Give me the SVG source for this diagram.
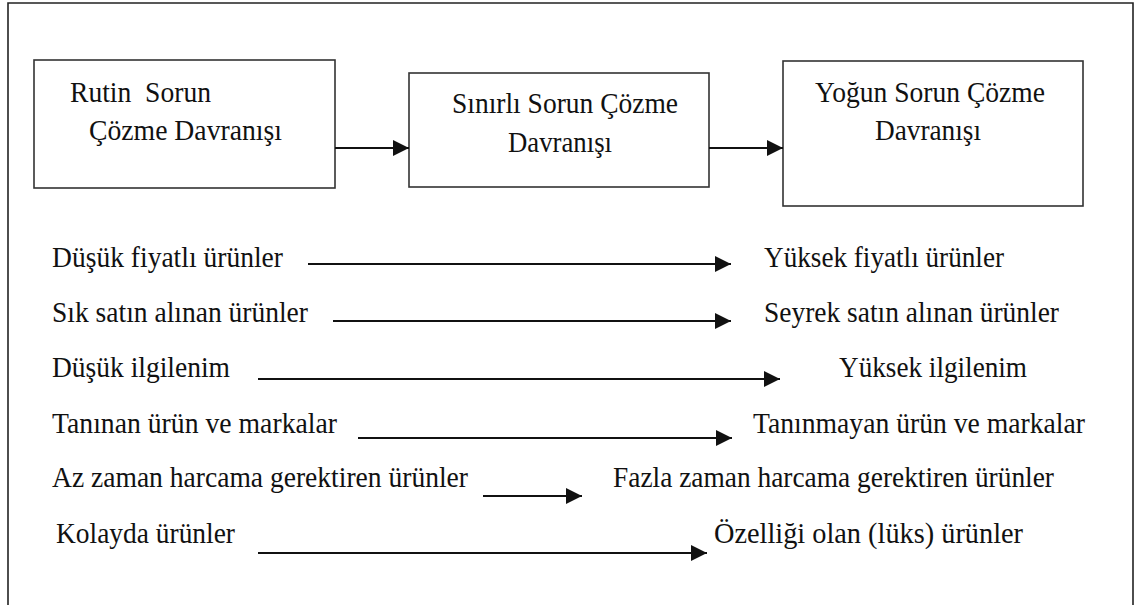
<svg xmlns="http://www.w3.org/2000/svg" width="1136" height="605" viewBox="0 0 1136 605">
  <style>
    .frame { fill: none; stroke: #222; stroke-width: 1.6; }
    .box { fill: #fff; stroke: #333; stroke-width: 1.6; }
    .lbl { font-family: 'Liberation Serif', 'DejaVu Serif', 'Times New Roman', serif; font-size: 29px; fill: #111; }
    .conn { stroke: #111; stroke-width: 2; fill: none; marker-end: url(#arrow); }
  </style>
  <defs>
    <marker id="arrow" markerUnits="userSpaceOnUse" markerWidth="16" markerHeight="16" refX="16" refY="8" orient="auto">
      <path d="M0,0 L16,8 L0,16 z" fill="#111"/>
    </marker>
  </defs>

  <rect width="1136" height="605" fill="#fff"/>
  <!-- outer frame, open at the bottom edge -->
  <path class="frame" d="M8,620 L8,3 L1133,3 L1133,620"/>

  <g id="node-rutin">
    <rect class="box" x="34" y="60" width="301" height="128"/>
    <text class="lbl" x="70" y="102" xml:space="preserve" textLength="141" lengthAdjust="spacingAndGlyphs">Rutin  Sorun</text>
    <text class="lbl" x="89" y="140" textLength="193" lengthAdjust="spacingAndGlyphs">Çözme Davranışı</text>
  </g>

  <g id="node-sinirli">
    <rect class="box" x="409" y="73" width="300" height="114"/>
    <text class="lbl" x="452" y="113" textLength="226" lengthAdjust="spacingAndGlyphs">Sınırlı Sorun Çözme</text>
    <text class="lbl" x="508" y="152" textLength="104" lengthAdjust="spacingAndGlyphs">Davranışı</text>
  </g>

  <g id="node-yogun">
    <rect class="box" x="783" y="61" width="300" height="145"/>
    <text class="lbl" x="815" y="102" textLength="230" lengthAdjust="spacingAndGlyphs">Yoğun Sorun Çözme</text>
    <text class="lbl" x="875" y="140" textLength="106" lengthAdjust="spacingAndGlyphs">Davranışı</text>
  </g>

  <g id="connectors">
    <line class="conn" x1="335" y1="148" x2="409" y2="148"/>
    <line class="conn" x1="709" y1="148" x2="783" y2="148"/>
    <line class="conn" x1="308" y1="264" x2="731" y2="264"/>
    <line class="conn" x1="333" y1="321" x2="731" y2="321"/>
    <line class="conn" x1="258" y1="379" x2="780" y2="379"/>
    <line class="conn" x1="358" y1="438" x2="732" y2="438"/>
    <line class="conn" x1="483" y1="496" x2="582" y2="496"/>
    <line class="conn" x1="258" y1="553" x2="707" y2="553"/>
  </g>

  <g id="row-fiyat">
    <text class="lbl" x="52" y="267" textLength="231" lengthAdjust="spacingAndGlyphs">Düşük fiyatlı ürünler</text>
    <text class="lbl" x="764" y="267" textLength="240" lengthAdjust="spacingAndGlyphs">Yüksek fiyatlı ürünler</text>
  </g>
  <g id="row-satin-alma">
    <text class="lbl" x="52" y="322" textLength="256" lengthAdjust="spacingAndGlyphs">Sık satın alınan ürünler</text>
    <text class="lbl" x="764" y="322" textLength="295" lengthAdjust="spacingAndGlyphs">Seyrek satın alınan ürünler</text>
  </g>
  <g id="row-ilgilenim">
    <text class="lbl" x="52" y="377" textLength="178" lengthAdjust="spacingAndGlyphs">Düşük ilgilenim</text>
    <text class="lbl" x="839" y="377" textLength="188" lengthAdjust="spacingAndGlyphs">Yüksek ilgilenim</text>
  </g>
  <g id="row-marka">
    <text class="lbl" x="52" y="433" textLength="285" lengthAdjust="spacingAndGlyphs">Tanınan ürün ve markalar</text>
    <text class="lbl" x="753" y="433" textLength="332" lengthAdjust="spacingAndGlyphs">Tanınmayan ürün ve markalar</text>
  </g>
  <g id="row-zaman">
    <text class="lbl" x="52" y="487" textLength="416" lengthAdjust="spacingAndGlyphs">Az zaman harcama gerektiren ürünler</text>
    <text class="lbl" x="613" y="487" textLength="441" lengthAdjust="spacingAndGlyphs">Fazla zaman harcama gerektiren ürünler</text>
  </g>
  <g id="row-kolayda">
    <text class="lbl" x="56" y="543" textLength="179" lengthAdjust="spacingAndGlyphs">Kolayda ürünler</text>
    <text class="lbl" x="714" y="543" textLength="309" lengthAdjust="spacingAndGlyphs">Özelliği olan (lüks) ürünler</text>
  </g>
</svg>
